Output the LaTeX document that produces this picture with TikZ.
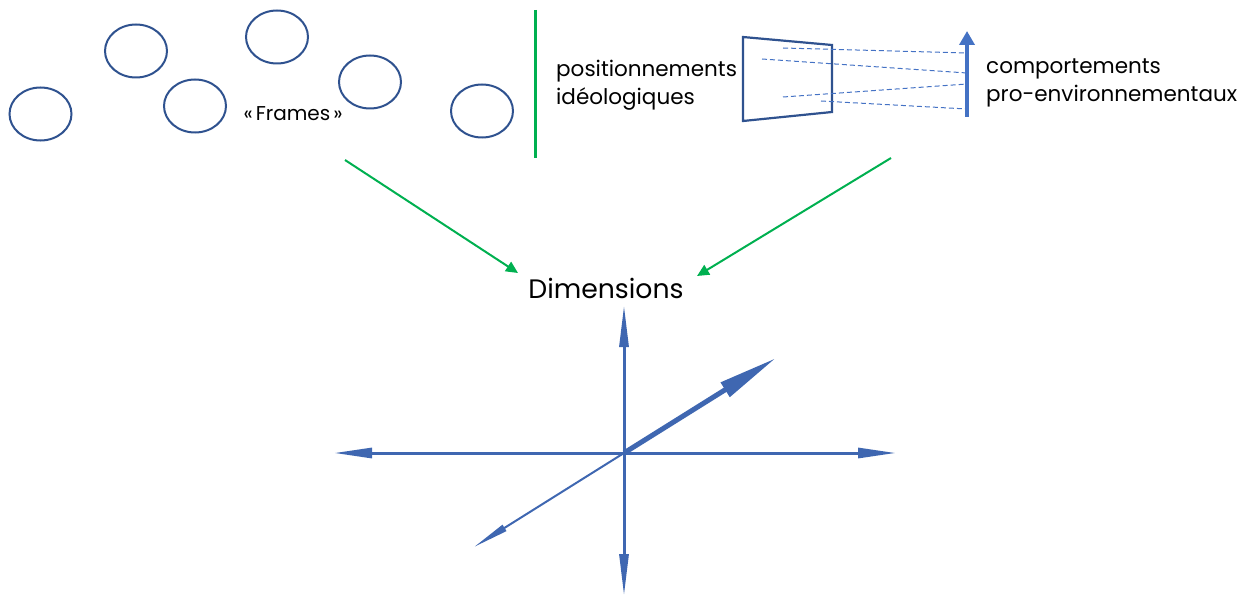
\documentclass[tikz,border=0pt]{standalone}
\usepackage{fontspec}
\setmainfont{Poppins}
\usetikzlibrary{arrows.meta,shapes.geometric}
\definecolor{dblue}{RGB}{47,82,143}
\definecolor{ablue}{RGB}{63,103,177}
\definecolor{lblue}{RGB}{68,114,196}
\definecolor{dgreen}{RGB}{0,176,80}
\tikzset{
  frameell/.style={draw=dblue,line width=2pt,ellipse,minimum width=62pt,minimum height=53pt,inner sep=0pt},
  lbl/.style={font=\fontsize{21.5}{28}\selectfont,align=left,anchor=west,inner sep=0pt},
  garrow/.style={draw=dgreen,line width=2pt,-{Triangle[length=12pt,width=11pt]}},
  axis/.style={draw=ablue,line width=3pt},
  dashline/.style={draw=lblue,line width=1pt,dash pattern=on 5pt off 3pt}
}
\begin{document}
\begin{tikzpicture}[x=1pt,y=-1pt]
\useasboundingbox (0,0) rectangle (1249,596);
% frames
\node[frameell] (f1) at (40.5,114) {};
\node[frameell] (f2) at (136,51) {};
\node[frameell] (f3) at (195,106) {};
\node[frameell] (f4) at (277,37) {};
\node[frameell] (f5) at (370,82) {};
\node[frameell] (f6) at (482,111) {};
\node[font=\fontsize{20}{24}\selectfont,inner sep=0pt] (frames) at (293,114) {«\hspace{3pt}Frames\hspace{3pt}»};
% green separator
\coordinate (s1) at (535,10);
\coordinate (s2) at (535,158);
\draw[draw=dgreen,line width=3pt] (s1) -- (s2);
\node[lbl] (pos) at (556,85) {positionnements\\idéologiques};
% trapezoid
\coordinate (t1) at (743,37);
\coordinate (t2) at (832,45);
\coordinate (t3) at (832,112);
\coordinate (t4) at (743,121);
\draw[draw=dblue,line width=2.2pt,line join=miter] (t1) -- (t2) -- (t3) -- (t4) -- cycle;
% blue arrow
\coordinate (b0) at (967,117);
\coordinate (b1) at (967,31);
\draw[draw=lblue,line width=3.5pt,-{Triangle[length=14pt,width=15pt]}] (b0) -- (b1);
\coordinate (d1a) at (783,48); \coordinate (d1b) at (967,53);
\coordinate (d2a) at (762,59); \coordinate (d2b) at (967,73);
\coordinate (d3a) at (783,97); \coordinate (d3b) at (967,84);
\coordinate (d4a) at (821,101); \coordinate (d4b) at (967,109);
\draw[dashline] (d1a) -- (d1b);
\draw[dashline] (d2a) -- (d2b);
\draw[dashline] (d3a) -- (d3b);
\draw[dashline] (d4a) -- (d4b);
\node[lbl] (comp) at (986,83) {comportements\\pro-environnementaux};
% Dimensions
\node[font=\fontsize{26.7}{32}\selectfont,inner sep=0pt] (dim) at (606,288) {Dimensions};
\coordinate (g1s) at (345,160); \coordinate (g1e) at (518,273);
\coordinate (g2s) at (891,158); \coordinate (g2e) at (697,276);
\draw[garrow] (g1s) -- (g1e);
\draw[garrow] (g2s) -- (g2e);
% axes
\coordinate (o) at (624,453);
\coordinate (up) at (624,305);
\coordinate (dn) at (624,596);
\coordinate (lf) at (334,453);
\coordinate (rt) at (896,453);
\coordinate (ur) at (776,358);
\coordinate (ll) at (474,547);
\draw[axis,-{Triangle[length=42pt,width=9pt]}] (o) -- (up);
\draw[axis,-{Triangle[length=42pt,width=9pt]}] (o) -- (dn);
\draw[axis,-{Triangle[length=38pt,width=10pt]}] (o) -- (lf);
\draw[axis,-{Triangle[length=38pt,width=10pt]}] (o) -- (rt);
\draw[axis,line width=5pt,-{Triangle[length=60pt,width=16pt]}] (o) -- (ur);
\draw[axis,line width=2pt,-{Triangle[length=36pt,width=7pt]}] (o) -- (ll);
\end{tikzpicture}
\end{document}
